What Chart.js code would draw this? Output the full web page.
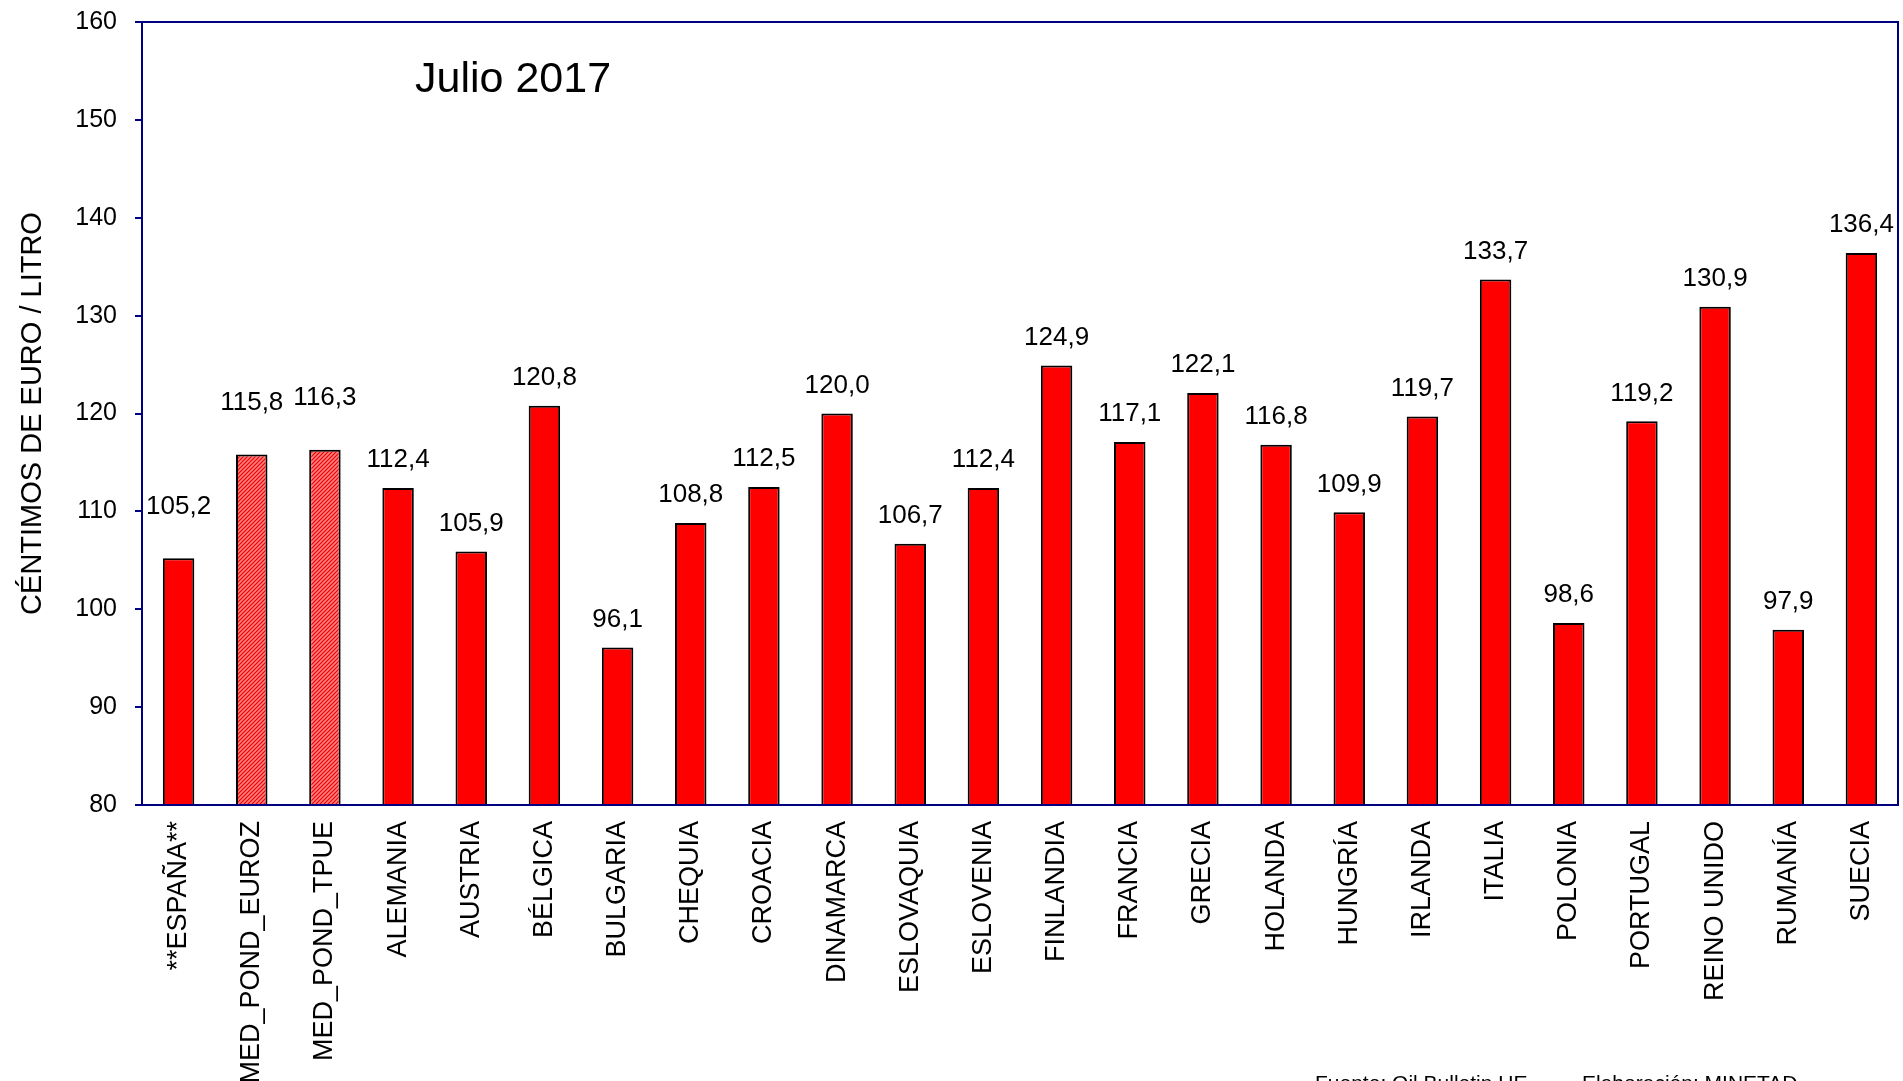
<!DOCTYPE html>
<html>
<head>
<meta charset="utf-8">
<script src="https://cdn.jsdelivr.net/npm/chart.js@4/dist/chart.umd.min.js"></script>
<style>
  html, body { margin: 0; padding: 0; background: #fff; }
  canvas { display: block; }
</style>
</head>
<body>
<canvas id="precios" width="1903" height="1081"></canvas>
<script>
// Precios gasolina UE - Julio 2017
const paises = ['**ESPAÑA**', 'MED_POND_EUROZ', 'MED_POND_TPUE', 'ALEMANIA', 'AUSTRIA', 'BÉLGICA',
    'BULGARIA', 'CHEQUIA', 'CROACIA', 'DINAMARCA', 'ESLOVAQUIA', 'ESLOVENIA', 'FINLANDIA',
    'FRANCIA', 'GRECIA', 'HOLANDA', 'HUNGRÍA', 'IRLANDA', 'ITALIA', 'POLONIA', 'PORTUGAL',
    'REINO UNIDO', 'RUMANÍA', 'SUECIA'];
const precios = [105.2, 115.8, 116.3, 112.4, 105.9, 120.8, 96.1, 108.8, 112.5, 120.0, 106.7, 112.4,
    124.9, 117.1, 122.1, 116.8, 109.9, 119.7, 133.7, 98.6, 119.2, 130.9, 97.9, 136.4];
const medias = ['MED_POND_EUROZ', 'MED_POND_TPUE'];
const yTicks = [80, 90, 100, 110, 120, 130, 140, 150, 160];
const titulo = 'Julio 2017';
const fuente = 'Fuente: Oil Bulletin UE';
const elaboracion = 'Elaboración: MINETAD';

const FONT = '"Liberation Sans", Arial, sans-serif';
const NAVY = '#000080';

// trama rayada para las medias
function rayado() {
    var c = document.createElement('canvas');
    c.width = 4; c.height = 4;
    var g = c.getContext('2d');
    g.fillStyle = '#ff8080';
    g.fillRect(0, 0, 4, 4);
    g.strokeStyle = '#ee0000';
    g.lineWidth = 1.2;
    g.beginPath();
    g.moveTo(0, 4); g.lineTo(4, 0);
    g.moveTo(-1, 1); g.lineTo(1, -1);
    g.moveTo(3, 5); g.lineTo(5, 3);
    g.stroke();
    return g.createPattern(c, 'repeat');
}

const canvas = document.getElementById('precios');
const ctx = canvas.getContext('2d');
const patron = rayado();

const extras = {
    id: 'extras',
    afterDatasetsDraw(chart) {
        const c = chart.ctx;
        const a = chart.chartArea;
        c.save();
        // marco del área
        c.strokeStyle = NAVY;
        c.lineWidth = 2;
        c.strokeRect(a.left, a.top, a.right - a.left, a.bottom - a.top);

        // etiquetas de valor
        const meta = chart.getDatasetMeta(0);
        c.fillStyle = '#000';
        c.font = '26px ' + FONT;
        c.textAlign = 'center';
        c.textBaseline = 'middle';
        meta.data.forEach(function (bar, i) {
            const lift = (i < 3) ? 52 : 28;
            c.fillText(precios[i].toFixed(1).replace('.', ','), bar.x, bar.y - lift);
        });

        // título
        c.font = '43px ' + FONT;
        c.textAlign = 'left';
        c.fillText(titulo, 415, 80);

        // pie
        c.font = '21px ' + FONT;
        c.textBaseline = 'top';
        c.fillText(fuente, 1315, 1074);
        c.fillText(elaboracion, 1582, 1074);
        c.restore();
    }
};

new Chart(ctx, {
    type: 'bar',
    data: {
        labels: paises,
        datasets: [{
            data: precios,
            backgroundColor: paises.map(p => medias.includes(p) ? patron : '#ff0000'),
            borderColor: '#000',
            borderWidth: 2,
            borderSkipped: false,
            barPercentage: 0.43,
            categoryPercentage: 1
        }]
    },
    options: {
        responsive: false,
        animation: false,
        layout: { padding: { top: 22, right: 5, left: 0, bottom: 0 } },
        plugins: { legend: { display: false }, tooltip: { enabled: false } },
        scales: {
            x: {
                grid: { display: false, drawTicks: false },
                border: { color: NAVY, width: 2 },
                ticks: {
                    autoSkip: false, maxRotation: 90, minRotation: 90,
                    color: '#000', font: { family: FONT, size: 27 }, padding: 16
                },
                afterFit(scale) {
                    scale.height = 276;
                    scale.paddingLeft = 0;
                    scale.paddingRight = 0;
                }
            },
            y: {
                min: 80, max: 160,
                afterBuildTicks(scale) { scale.ticks = yTicks.map(v => ({ value: v })); },
                grid: { drawOnChartArea: false, color: NAVY, tickLength: 7, lineWidth: 2 },
                border: { color: NAVY, width: 2 },
                ticks: { color: '#000', font: { family: FONT, size: 25 }, padding: 18 },
                title: {
                    display: true, text: 'CÉNTIMOS DE EURO / LITRO', color: '#000',
                    font: { family: FONT, size: 29 }, padding: { top: 16, bottom: 0 }
                },
                afterFit(scale) {
                    scale.width = 142;
                    scale.paddingTop = 0;
                    scale.paddingBottom = 0;
                }
            }
        }
    },
    plugins: [extras]
});
</script>
</body>
</html>
